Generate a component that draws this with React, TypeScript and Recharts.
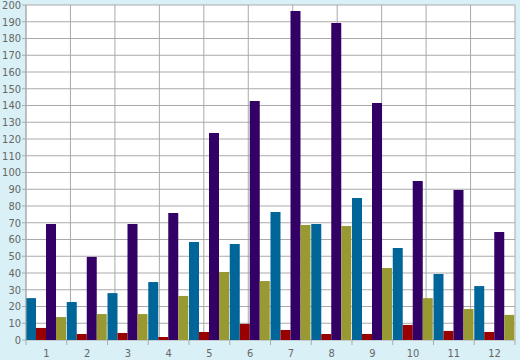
import React from 'react';
import { BarChart, Bar, XAxis, YAxis, CartesianGrid } from 'recharts';

const categories = ['1', '2', '3', '4', '5', '6', '7', '8', '9', '10', '11', '12'];
const blueValues = [25, 22.7, 28, 34.6, 58.5, 57.3, 76.4, 69.3, 84.8, 54.9, 39.4, 32.2];
const redValues = [7.2, 3.6, 4.2, 1.8, 4.8, 9.6, 6, 3.6, 3.6, 9, 5.4, 4.8];
const purpleValues = [69.3, 49.6, 69.3, 75.8, 123.6, 142.7, 196.4, 189.3, 141.5, 94.9, 89.6, 64.5];
const oliveValues = [13.7, 15.5, 15.5, 26.3, 40.6, 35.2, 68.7, 68.1, 43, 25, 18.5, 15];
const yTicks = [0, 10, 20, 30, 40, 50, 60, 70, 80, 90, 100, 110, 120, 130, 140, 150, 160, 170, 180, 190, 200];
const gridTicks = [0, 1, 2, 3, 4, 5, 6, 7, 8, 9, 10, 11, 12];

const data = categories.map((c, i) => ({
  cat: c,
  blue: blueValues[i],
  red: redValues[i],
  purple: purpleValues[i],
  olive: oliveValues[i],
}));

const FONT = "'DejaVu Sans Condensed', 'DejaVu Sans', sans-serif";
const TEXT = '#666';
const GRID = '#aaaaaa';

const XTick = (props: any) => {
  const { x, y, payload, index, width, visibleTicksCount } = props;
  const half =
    payload && typeof payload.offset === 'number' && payload.offset > 0
      ? payload.offset
      : width / (visibleTicksCount || 12) / 2;
  const axisY = y - 8;
  return (
    <g>
      {index === 0 && (
        <line x1={x - half} x2={x - half} y1={axisY} y2={axisY + 5} stroke={GRID} />
      )}
      <line x1={x + half} x2={x + half} y1={axisY} y2={axisY + 5} stroke={GRID} />
      <text
        x={x}
        y={y}
        dy="0.78em"
        textAnchor="middle"
        fill={TEXT}
        fontSize={11}
        fontFamily={FONT}
      >
        {payload.value}
      </text>
    </g>
  );
};

export default function App() {
  return (
    <div style={{ position: 'fixed', left: 0, top: 0, width: 520, height: 360, background: '#d9f0f7' }}>
      <BarChart
        width={520}
        height={360}
        data={data}
        margin={{ top: 5, right: 5, bottom: 0, left: 0 }}
        barCategoryGap={0}
        barGap={0}
      >
        <CartesianGrid
          xAxisId="grid"
          stroke={GRID}
          fill="#ffffff"
          fillOpacity={1}
        />
        <XAxis
          xAxisId="grid"
          type="number"
          domain={[0, 12]}
          ticks={gridTicks}
          hide
        />
        <XAxis
          dataKey="cat"
          height={20}
          axisLine={false}
          tickLine={false}
          tickSize={5}
          tickMargin={3}
          interval={0}
          tick={<XTick />}
        />
        <YAxis
          width={26}
          domain={[0, 200]}
          ticks={yTicks}
          interval={0}
          axisLine={{ stroke: GRID }}
          tickLine={{ stroke: GRID }}
          tickSize={4}
          tickMargin={1}
          tick={{ fill: TEXT, fontSize: 11, fontFamily: FONT }}
        />
        <Bar dataKey="blue" fill="#006699" isAnimationActive={false} />
        <Bar dataKey="red" fill="#990000" isAnimationActive={false} />
        <Bar dataKey="purple" fill="#330066" isAnimationActive={false} />
        <Bar dataKey="olive" fill="#999933" isAnimationActive={false} />
      </BarChart>
    </div>
  );
}
